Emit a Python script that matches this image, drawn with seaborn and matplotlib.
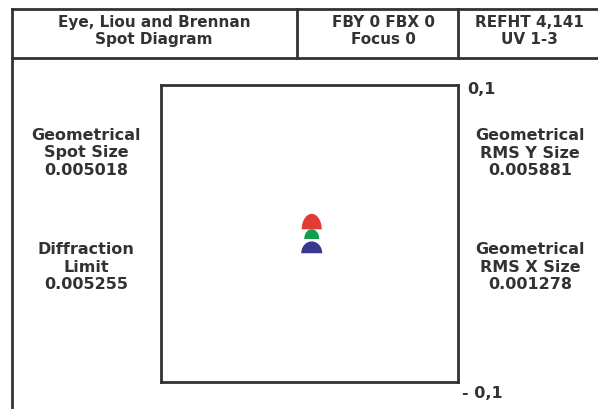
import numpy as np
import pandas as pd
import matplotlib
matplotlib.use("Agg")
import matplotlib.pyplot as plt
from matplotlib.path import Path
from matplotlib.lines import Line2D
import seaborn as sns

# ---- data ----
header_titles = ["Eye, Liou and Brennan\nSpot Diagram", "FBY 0 FBX 0\nFocus 0", "REFHT 4,141\nUV 1-3"]
left_labels = ["Geometrical\nSpot Size", "Diffraction\nLimit"]
left_values = ["0.005018", "0.005255"]
right_labels = ["Geometrical\nRMS Y Size", "Geometrical\nRMS X Size"]
right_values = ["0.005881", "0.001278"]
wavelengths = ["w1", "w2", "w3"]
spot_x = [0.0015, 0.0015, 0.0015]
spot_y = [0.0028, -0.0037, -0.0133]
axis_max_label = "0,1"
axis_min_label = "- 0,1"
axis_limit = 0.1

df = pd.DataFrame({"wave": wavelengths, "x": spot_x, "y": spot_y})

# ---- style ----
sns.set_theme(style="white")
plt.rcParams["font.family"] = ["DejaVu Sans"]
W, H = 598, 409
fig = plt.figure(figsize=(W / 100, H / 100), dpi=100)
ink = "#303336"
lw = 2.0

def fx(px):
    return px / W

def fy(py):
    return 1 - py / H

# frame lines (figure coords)
frame = [
    ((12, 12), (9, 409)),
    ((12, 598), (9, 9)),
    ((12, 598), (57.5, 57.5)),
    ((297, 297), (9, 57.5)),
    ((458, 458), (9, 57.5)),
]
for xs, ys in frame:
    fig.add_artist(Line2D([fx(v) for v in xs], [fy(v) for v in ys], color=ink, lw=lw,
                          solid_capstyle="projecting"))

tkw = dict(ha="center", va="center", color=ink, fontsize=11, fontweight="bold",
           linespacing=1.1)
header_x = [154, 383, 529]
for t, x in zip(header_titles, header_x):
    fig.text(fx(x), fy(31), t, **tkw)

skw = {**tkw, "fontsize": 11.5, "linespacing": 1.19}
side_y = [153, 267]
for lab, val, y in zip(left_labels, left_values, side_y):
    fig.text(fx(86), fy(y), lab + "\n" + val, **skw)
for lab, val, y in zip(right_labels, right_values, side_y):
    fig.text(fx(530), fy(y), lab + "\n" + val, **skw)

# plot area
ax = fig.add_axes([fx(161), fy(382), fx(458) - fx(161), (382 - 85) / H])
ax.set_xlim(-axis_limit, axis_limit)
ax.set_ylim(-axis_limit, axis_limit)
ax.set_xticks([])
ax.set_yticks([])
for s in ax.spines.values():
    s.set_visible(True)
    s.set_color(ink)
    s.set_linewidth(lw)
ax.set_facecolor("white")

def dome(a, b, n=40):
    t = np.linspace(0, np.pi, n)
    verts = np.column_stack([a * np.cos(t), b * np.sin(t)])
    verts = np.vstack([verts, verts[:1]])
    return Path(verts, closed=True)

markers = {"w1": dome(10, 15.5), "w2": dome(7.5, 9.8), "w3": dome(10.5, 11.8)}
sizes = {"w1": (31 * 0.72) ** 2, "w2": (19.6 * 0.72) ** 2, "w3": (23.6 * 0.72) ** 2}
palette = {"w1": "#e23b35", "w2": "#10a04c", "w3": "#353a8e"}
sns.scatterplot(data=df, x="x", y="y", hue="wave", style="wave", size="wave",
                markers=markers, sizes=sizes, palette=palette, linewidth=0,
                legend=False, ax=ax)
ax.set_xlabel("")
ax.set_ylabel("")

fig.text(fx(467), fy(89), axis_max_label, ha="left", va="center", color=ink,
         fontsize=11.5, fontweight="bold")
fig.text(fx(462), fy(393), axis_min_label, ha="left", va="center", color=ink,
         fontsize=11.5, fontweight="bold")

fig.savefig("out.png", dpi=100, facecolor="white")
